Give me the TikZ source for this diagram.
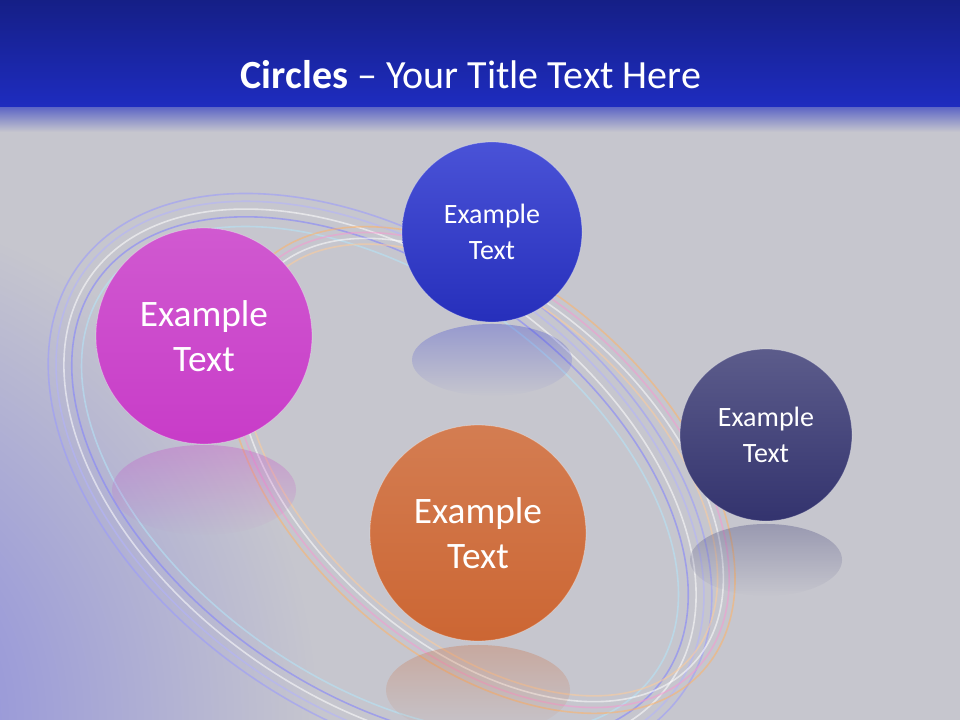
\documentclass[tikz,border=0pt]{standalone}
\usepackage{fontspec}
\setmainfont{Carlito}
\usetikzlibrary{fadings}
\definecolor{bg}{HTML}{C6C6CE}
\definecolor{bar}{HTML}{1E2CC0}
\definecolor{magc}{HTML}{C83CC8}
\definecolor{bluc}{HTML}{2A34D0}
\definecolor{navc}{HTML}{33336E}
\definecolor{orac}{HTML}{CC6633}
\tikzset{
  ball/.style={circle, minimum size=#1, inner sep=0pt, text=white, align=center, draw=white, draw opacity=0.3, line width=0.6pt},
  big/.style={font=\fontsize{28}{34}\selectfont},
  small/.style={font=\fontsize{21}{27}\selectfont},
  ring/.style={line width=1.2pt, opacity=0.55},
  refl/.style={opacity=0.3},
}
\begin{document}
\begin{tikzpicture}[x=0.75pt,y=-0.75pt]
\useasboundingbox (0,0) rectangle (960,720);
\fill[bg] (0,0) rectangle (960,720);
\shade[inner color=blue!35!bg, outer color=bg] (-200,720) circle (520);
% title bar
\shade[top color=bar!70!black, bottom color=bar] (0,0) rectangle (960,108);
\shade[top color=bar!60!bg, bottom color=bg] (0,108) rectangle (960,132);
\node (title) at (471,75) {\fontsize{30}{34}\selectfont\color{white}\textbf{Circles} – Your Title Text Here};
% rings
\begin{scope}[rotate around={-35:(380,480)}]
 \foreach \d/\c in {0/blue!40!white,8/blue!30!white,16/white,24/blue!50!white,34/cyan!30!white}{
  \draw[ring,color=\c] (380,480) ellipse ({370-\d} and {235-\d});}
\end{scope}
\begin{scope}[rotate around={-42:(480,470)}]
 \foreach \d/\c in {0/orange!60!white,6/magenta!40!white,12/white,18/orange!40!white}{
  \draw[ring,color=\c] (480,470) ellipse ({300-\d} and {185-\d});}
\end{scope}
% reflections
\fill[magc,refl,path fading=south] (204,490) ellipse (92 and 45);
\fill[bluc,refl,path fading=south] (492,360) ellipse (80 and 36);
\fill[navc,refl,path fading=south] (766,560) ellipse (76 and 36);
\fill[orac,refl,path fading=south] (478,690) ellipse (92 and 45);
% balls
\node[ball=162pt, big, top color=magc!85!white, bottom color=magc] (m) at (204,336) {Example\\Text};
\node[ball=135pt, small, top color=bluc!85!white, bottom color=bluc!90!black] (b) at (492,232) {Example\\Text};
\node[ball=129pt, small, top color=navc!80!white, bottom color=navc] (n) at (766,435) {Example\\Text};
\node[ball=162pt, big, top color=orac!85!white, bottom color=orac] (o) at (478,533) {Example\\Text};
\end{tikzpicture}
\end{document}
